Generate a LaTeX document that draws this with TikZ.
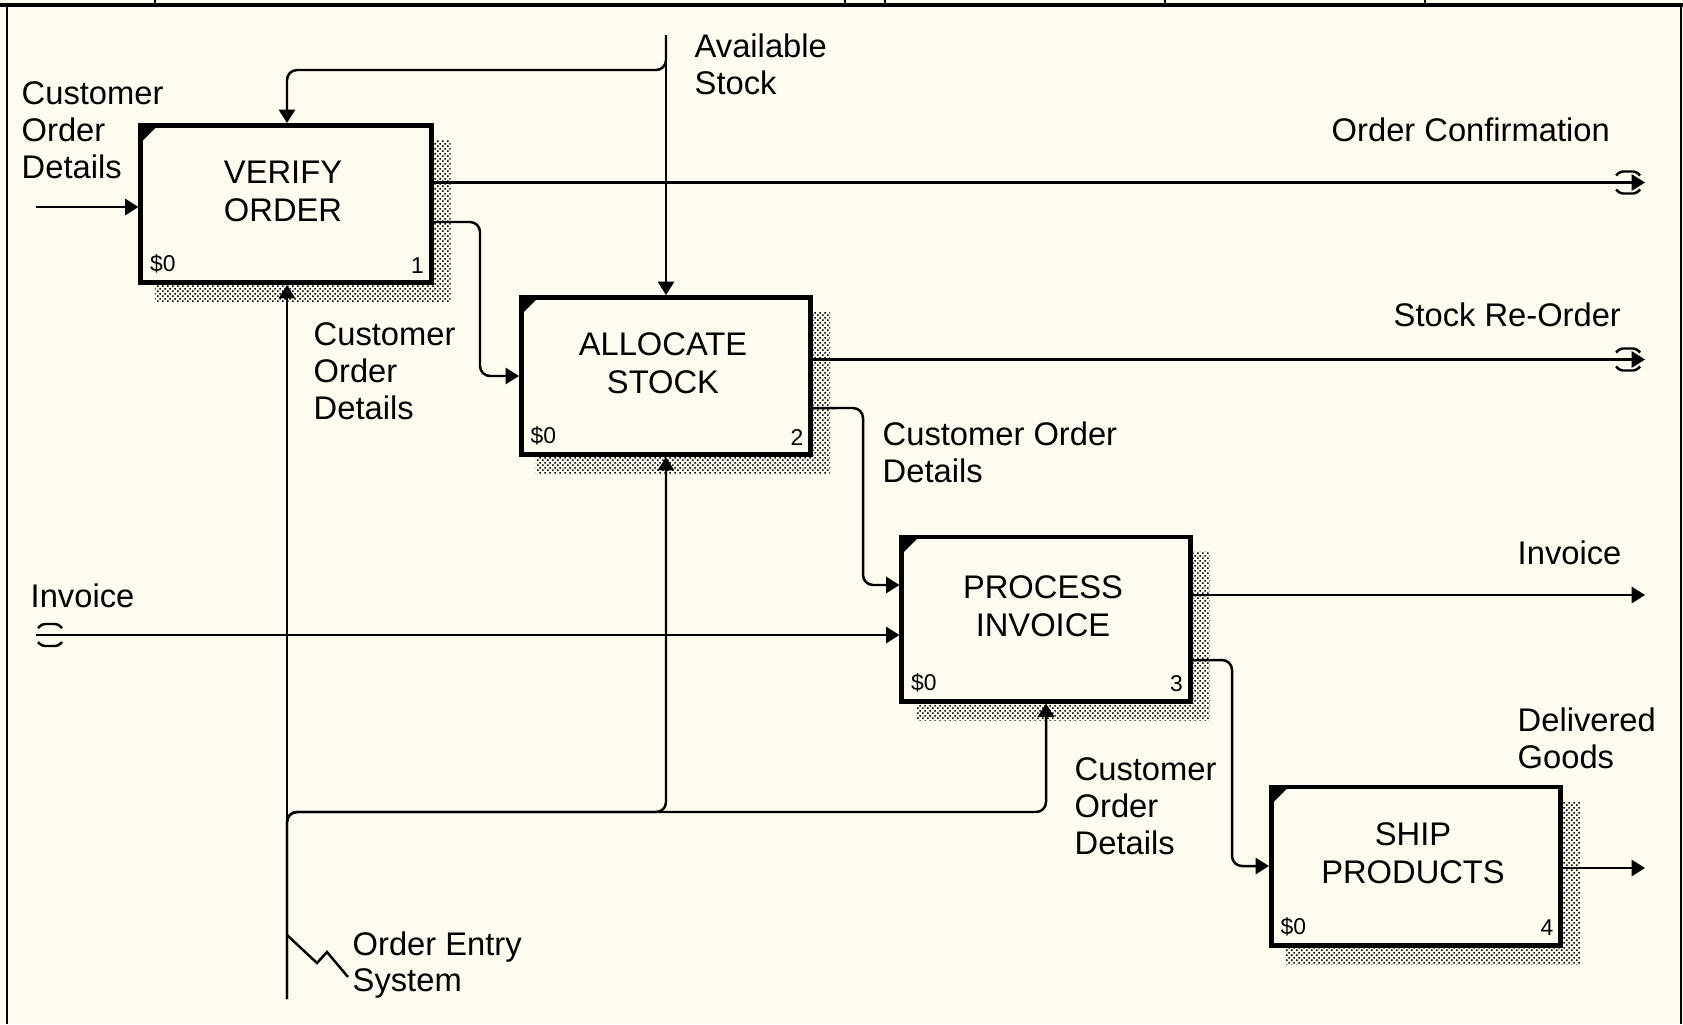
\documentclass[tikz,border=0pt]{standalone}
\usepackage{fontspec}
\setmainfont{Liberation Sans}
\usetikzlibrary{arrows.meta,patterns,calc}

\definecolor{paper}{RGB}{255,251,240}

\pgfdeclarepatternformonly{shadowdots}{\pgfpointorigin}{\pgfqpoint{1.5pt}{1.5pt}}{\pgfqpoint{1.5pt}{1.5pt}}{%
    \pgfpathrectangle{\pgfpointorigin}{\pgfqpoint{0.5pt}{0.5pt}}%
    \pgfpathrectangle{\pgfqpoint{0.75pt}{0.75pt}}{\pgfqpoint{0.5pt}{0.5pt}}%
    \pgfusepath{fill}}

\tikzset{
    activity/.style={draw, line width=1.4pt, fill=paper, minimum width=2.9cm,
                     minimum height=1.57cm, inner sep=0pt},
    boxtitle/.style={align=center, inner sep=0pt, font=\fontsize{9.3}{10.8}\selectfont},
    lbl/.style={anchor=west, align=left, inner sep=0pt, font=\fontsize{9.3}{10.5}\selectfont},
    boxcorner/.style={inner sep=0pt, font=\fontsize{6.5}{7}\selectfont},
    flow/.style={line width=0.7pt, -{Triangle[length=3.8pt,width=4.6pt]}},
    link/.style={line width=0.7pt},
}

\begin{document}
\begin{tikzpicture}[x=0.01cm, y=-0.01cm]
    % sheet and frame
    \fill[paper] (0,0) rectangle (1683,1024);
    \useasboundingbox (0,0) rectangle (1683,1024);
    \draw[line width=1.1pt] (0,5) -- (1683,5);
    \draw[line width=0.85pt] (7,5) -- (7,1024);
    \draw[line width=0.6pt] (1681,5) -- (1681,1024);
    \foreach \x in {155,845,885,1165,1425}
        \draw[line width=0.6pt] (\x,0) -- (\x,5);

    % activities
    \node[activity] (V) at (286,204) {};
    \node[activity, minimum width=2.89cm] (A) at (666,376) {};
    \node[activity, minimum width=2.88cm, minimum height=1.64cm] (P) at (1046,619) {};
    \node[activity, minimum width=2.89cm, minimum height=1.58cm] (S) at (1416,866) {};

    \foreach \b/\n/\t in {V/1/{VERIFY\\ORDER}, A/2/{ALLOCATE\\STOCK},
                          P/3/{PROCESS\\INVOICE}, S/4/{SHIP\\PRODUCTS}} {
        \path[pattern=shadowdots] ([yshift=-0.17cm]\b.north east)
            -- ([shift={(0.17cm,-0.17cm)}]\b.north east)
            -- ([shift={(0.17cm,-0.17cm)}]\b.south east)
            -- ([shift={(0.17cm,-0.17cm)}]\b.south west)
            -- ([xshift=0.17cm]\b.south west) -- (\b.south east) -- cycle;
        \fill ([shift={(0.045cm,-0.045cm)}]\b.north west) -- ++(0.13cm,0pt)
            -- ++(-0.13cm,-0.13cm) -- cycle;
        \node[boxtitle] (\b-title) at ([shift={(-0.03cm,0.13cm)}]\b.center) {\t};
        \node[boxcorner, anchor=south west] (\b-cost)
            at ([shift={(0.11cm,0.11cm)}]\b.south west) {\$0};
        \node[boxcorner, anchor=south east] (\b-num)
            at ([shift={(-0.09cm,0.11cm)}]\b.south east) {\n};
    }

    % boundary points
    \coordinate (cod) at (36,207);
    \coordinate (avail) at (666,35);
    \coordinate (abr) at (666,70);
    \coordinate (inv) at (36,635);
    \coordinate (mech) at (287,999);
    \coordinate (mbr) at (287,812);
    \coordinate (oc) at (1645,182.5);
    \coordinate (sro) at (1645,359.5);
    \coordinate (invo) at (1645,595);
    \coordinate (dg) at (1645,868);

    % arrows
    \draw[flow] (cod) -- (cod -| V.west);
    \draw[flow] (avail) -- (avail |- A.north);
    \draw[flow, rounded corners=0.1cm] (avail) -- (abr) -| (mech |- V.north);
    \draw[flow] (V.east |- oc) -- (oc);
    \draw[flow, rounded corners=0.1cm] ([yshift=-0.18cm]V.east) -- (480,222) |- (A.west);
    \draw[flow] (A.east |- sro) -- (sro);
    \draw[flow, rounded corners=0.1cm] ([yshift=-0.32cm]A.east) -- (863,408)
        |- ([yshift=0.34cm]P.west);
    \draw[flow] (inv) -- (inv -| P.west);
    \draw[flow] (P.east |- invo) -- (invo);
    \draw[flow, rounded corners=0.1cm] ([yshift=-0.41cm]P.east) -- (1232,660) |- (S.west);
    \draw[flow] (S.east |- dg) -- (dg);
    \draw[flow] (mech) -- (mech |- V.south);
    \draw[flow, rounded corners=0.1cm] (mech) -- (mbr) -| (A.south);
    \draw[flow, rounded corners=0.1cm] (mech) -- (mbr) -| (P.south);
    \draw[link] (287,935) -- (317,963) -- (327,952) -- (348,977);

    % tunnel marks
    \foreach \tx/\ty in {50/635, 1628/182.5, 1628/359.5} {
        \draw[link, rounded corners=0.03cm] (\tx-12,\ty-7) -- (\tx-8,\ty-11) -- (\tx+8,\ty-11) -- (\tx+12,\ty-7);
        \draw[link, rounded corners=0.03cm] (\tx-12,\ty+7) -- (\tx-8,\ty+11) -- (\tx+8,\ty+11) -- (\tx+12,\ty+7);
    }

    % labels
    \node[lbl] (cod-l) at (21,130) {Customer\\Order\\Details};
    \node[lbl] (avail-l) at (694,64) {Available\\Stock};
    \node[lbl] (va-l) at (313,371) {Customer\\Order\\Details};
    \node[lbl] (ap-l) at (882,452) {Customer Order\\Details};
    \node[lbl] (ps-l) at (1074,806) {Customer\\Order\\Details};
    \node[lbl] (mech-l) at (352,965) {Order Entry\\System};
    \node[lbl] (oc-l) at (1331,130) {Order Confirmation};
    \node[lbl] (sro-l) at (1393,315) {Stock Re-Order};
    \node[lbl] (invo-l) at (1517,553) {Invoice};
    \node[lbl] (dg-l) at (1517,738) {Delivered\\Goods};
    \node[lbl] (inv-l) at (30,596) {Invoice};
\end{tikzpicture}
\end{document}
